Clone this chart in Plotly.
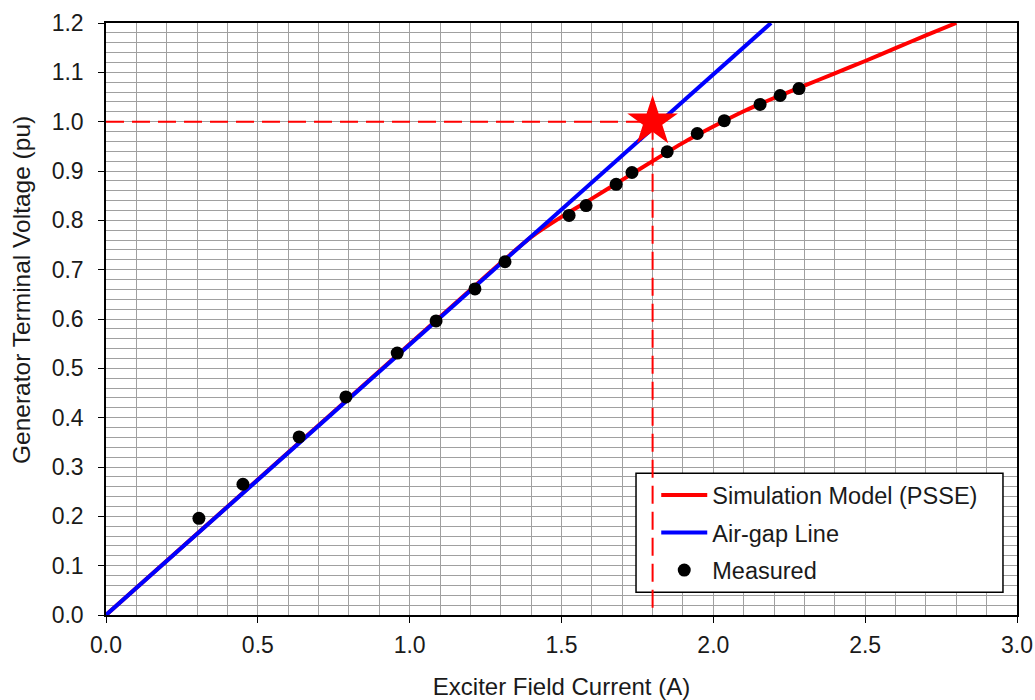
import plotly.graph_objects as go

# Open-circuit saturation test of the generator
sim_current = [0.0, 1.30, 1.40, 1.50, 1.60, 1.70, 1.80, 1.90, 2.00, 2.10, 2.20, 2.30, 2.40, 2.50, 2.60, 2.70, 2.80]
sim_voltage = [0.0, 0.714, 0.766, 0.807, 0.844, 0.882, 0.920, 0.957, 0.990, 1.021, 1.048, 1.073, 1.098, 1.123, 1.149, 1.175, 1.200]

airgap_current = [0.0, 2.19]
airgap_voltage = [0.0, 1.20]

meas_current = [0.306, 0.451, 0.636, 0.790, 0.959, 1.087, 1.215, 1.314, 1.525, 1.581,
                1.680, 1.732, 1.848, 1.947, 2.036, 2.154, 2.220, 2.282]
meas_voltage = [0.196, 0.265, 0.361, 0.442, 0.531, 0.596, 0.661, 0.716, 0.810, 0.830,
                0.873, 0.897, 0.939, 0.976, 1.002, 1.035, 1.053, 1.067]

# Rated point (field current at 1.0 pu terminal voltage on the air-gap line)
rated_current = 1.8
rated_voltage = 1.0

FONT = "Liberation Sans, Arial, sans-serif"
TEXT = "#1a1a1a"
GRID = "#a0a0a0"
DASH = "18px,8px"

fig = go.Figure()

# Horizontal dashed guide to the rated point
fig.add_trace(go.Scatter(
    x=[0.0, rated_current], y=[rated_voltage, rated_voltage], mode="lines",
    line=dict(color="#ff0000", width=2, dash=DASH),
    showlegend=False, hoverinfo="skip"))

fig.add_trace(go.Scatter(
    x=sim_current, y=sim_voltage, mode="lines", name="Simulation Model (PSSE)",
    legendgroup="sim",
    line=dict(color="#ff0000", width=4, shape="spline", smoothing=0.6)))

fig.add_trace(go.Scatter(
    x=airgap_current, y=airgap_voltage, mode="lines", name="Air-gap Line",
    legendgroup="airgap",
    line=dict(color="#0000ff", width=4)))

fig.add_trace(go.Scatter(
    x=meas_current, y=meas_voltage, mode="markers", name="Measured",
    legendgroup="meas",
    marker=dict(color="#000000", size=13, symbol="circle")))

fig.add_trace(go.Scatter(
    x=[rated_current], y=[rated_voltage], mode="markers",
    marker=dict(color="#ff0000", size=38, symbol="star"),
    showlegend=False, hoverinfo="skip"))

axis_common = dict(
    showline=True, linecolor="#000000", linewidth=1.5, mirror=True,
    ticks="outside", ticklen=6, tickcolor="#000000", tickwidth=1,
    showgrid=True, gridcolor=GRID, gridwidth=1, zeroline=False,
    tickfont=dict(family=FONT, size=23, color=TEXT),
    automargin=False,
)

fig.update_xaxes(
    range=[0, 3.0], dtick=0.5, tick0=0, tickformat=".1f",
    minor=dict(dtick=0.1, showgrid=True, gridcolor=GRID, gridwidth=1),
    ticklabelstandoff=3,
    title=dict(text="Exciter Field Current (A)", standoff=30,
               font=dict(family=FONT, size=24, color=TEXT)),
    **axis_common)
fig.update_yaxes(
    range=[0, 1.2], dtick=0.1, tick0=0, tickformat=".1f",
    minor=dict(dtick=0.02, showgrid=True, gridcolor=GRID, gridwidth=1),
    ticklabelstandoff=10,
    **axis_common)

# Vertical axis title, placed a little above the plot's mid-height
fig.add_annotation(
    text="Generator Terminal Voltage (pu)", textangle=-90,
    xref="paper", yref="paper", x=0, y=0.549, xanchor="center", yanchor="middle",
    xshift=-84, showarrow=False,
    font=dict(family=FONT, size=24.5, color=TEXT))

# Legend frame: opaque white panel with a black border
fig.add_shape(
    type="rect", xref="paper", yref="paper",
    x0=0.5818, x1=0.9846, y0=0.0384, y1=0.2395,
    fillcolor="#ffffff", line=dict(color="#000000", width=1.5),
    layer="above")

# Vertical dashed guide from the rated point down to the axis (runs over the legend panel)
fig.add_shape(
    type="line", xref="x", yref="y",
    x0=rated_current, x1=rated_current, y0=rated_voltage, y1=0.0,
    line=dict(color="#ff0000", width=2, dash=DASH),
    layer="above")

fig.update_layout(
    width=1035, height=700,
    margin=dict(l=106, r=18, t=23, b=85),
    paper_bgcolor="#ffffff", plot_bgcolor="#ffffff",
    font=dict(family=FONT, size=23, color=TEXT),
    legend=dict(
        x=0.604, y=0.2395, xanchor="left", yanchor="top",
        bgcolor="rgba(0,0,0,0)", borderwidth=0,
        font=dict(family=FONT, size=23.5, color=TEXT),
        itemwidth=46, tracegroupgap=4, traceorder="grouped",
    ),
)

fig.write_html("out.html")
